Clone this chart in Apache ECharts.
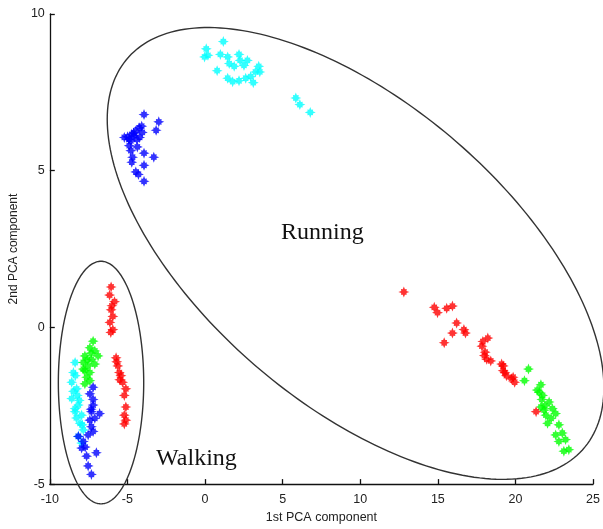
<!DOCTYPE html>
<html>
<head>
<meta charset="utf-8">
<script src="https://cdn.jsdelivr.net/npm/echarts@6/dist/echarts.min.js"></script>
<style>html,body{margin:0;padding:0;background:#fff}#c{width:603px;height:529px}</style>
</head>
<body>
<div id="c"></div>
<script>
// ---- data (1st PCA component, 2nd PCA component) ----
const xTicks = [-10, -5, 0, 5, 10, 15, 20, 25];
const yTicks = [-5, 0, 5, 10];

const cyanRun = [[1.18,9.12],[0.08,8.89],[0.19,8.68],[-0.03,8.63],[0.99,8.71],[1.46,8.63],[2.19,8.71],[2.26,8.52],[2.73,8.52],[1.56,8.42],[1.88,8.33],[2.51,8.36],[3.46,8.33],[0.78,8.19],[3.25,8.15],[1.46,7.95],[1.78,7.84],[2.19,7.87],[2.62,7.95],[2.94,8.00],[3.11,7.81],[3.53,8.15],[5.85,7.32],[6.11,7.11],[6.78,6.86]];
const blueRun = [[-3.93,6.79],[-2.98,6.56],[-3.15,6.29],[-4.25,6.37],[-4.46,6.27],[-4.72,6.16],[-4.99,6.08],[-5.20,6.06],[-4.57,6.11],[-4.04,6.22],[-4.78,5.95],[-4.36,5.76],[-4.78,5.64],[-3.93,5.56],[-3.30,5.43],[-4.67,5.43],[-4.72,5.27],[-3.93,5.17],[-4.46,4.96],[-4.29,4.88],[-3.93,4.66],[-4.21,6.06],[-4.88,5.80],[-4.08,6.42],[-4.6,6.2],[-4.4,6.0],[-4.9,6.0]];
const redRun = [[12.81,1.13],[14.77,0.64],[14.98,0.47],[15.57,0.61],[15.94,0.68],[16.21,0.14],[15.94,-0.18],[16.68,-0.07],[16.78,-0.18],[15.41,-0.49],[18.22,-0.34],[17.84,-0.60],[18.05,-0.79],[18.15,-1.02],[18.41,-1.07],[19.11,-1.17],[19.21,-1.38],[19.42,-1.54],[19.85,-1.59],[19.95,-1.75],[19.21,-1.23],[19.74,-1.64],[19.32,-1.44],[21.33,-2.69],[17.9,-0.45],[18.0,-0.9]];
const greenRun = [[20.84,-1.33],[20.58,-1.70],[21.64,-1.83],[21.54,-2.07],[21.75,-2.17],[22.17,-2.38],[21.64,-2.54],[21.85,-2.64],[22.38,-2.59],[21.96,-2.80],[22.59,-2.75],[22.07,-3.06],[22.80,-3.11],[23.02,-3.37],[22.59,-3.43],[23.23,-3.58],[22.80,-3.64],[23.12,-3.95],[23.44,-3.90],[21.4,-2.0],[21.9,-2.5],[22.3,-2.9],[21.7,-2.3]];

const redWalk = [[-6.05,1.29],[-6.15,1.03],[-5.83,0.82],[-6.05,0.56],[-5.94,0.35],[-6.13,0.16],[-5.94,-0.07],[-6.07,-0.16],[-6.0,0.69],[-5.73,-0.97],[-5.62,-1.23],[-5.52,-1.44],[-5.42,-1.54],[-5.31,-1.75],[-5.10,-1.96],[-5.20,-2.17],[-5.10,-2.54],[-5.20,-2.80],[-5.10,-2.96],[-5.20,-3.08],[-5.69,-1.10],[-5.50,-1.67]];
const greenWalk = [[-7.21,-0.44],[-7.42,-0.65],[-7.10,-0.75],[-6.89,-0.91],[-7.74,-0.91],[-7.32,-1.02],[-7.84,-1.12],[-7.53,-1.23],[-7.10,-1.17],[-7.74,-1.38],[-7.42,-1.44],[-7.84,-1.33],[-7.63,-1.59],[-7.42,-1.70],[-7.74,-1.80],[-7.34,-0.82],[-7.59,-1.04]];
const cyanWalk = [[-8.37,-1.12],[-8.48,-1.44],[-8.59,-1.75],[-8.27,-1.96],[-8.59,-2.27],[-8.37,-2.59],[-8.16,-2.48],[-8.37,-2.69],[-7.95,-2.80],[-8.05,-3.06],[-7.84,-3.27],[-8.16,-3.48],[-7.95,-3.69],[-8.48,-2.04],[-8.22,-2.17],[-8.35,-1.54],[-8.10,-2.33],[-8.29,-2.89],[-7.91,-3.11]];
const blueWalk = [[-7.21,-1.91],[-7.42,-2.12],[-7.21,-2.48],[-6.79,-2.75],[-7.32,-2.69],[-7.10,-2.90],[-7.42,-2.96],[-7.32,-3.17],[-7.21,-3.32],[-7.53,-3.43],[-8.16,-3.48],[-7.84,-3.64],[-7.95,-3.85],[-7.0,-4.00],[-7.63,-4.11],[-7.53,-4.42],[-7.32,-4.69],[-7.21,-2.30],[-7.34,-2.61],[-7.72,-3.82]];

// annotation ellipses in data units: center + two conjugate half-diameters
const ellipseCenters = [[9.70, 2.36], [-6.70, -1.76]];
const ellipseAxesA = [[16.0, -4.28], [2.75, 0]];
const ellipseAxesB = [[0, -5.80], [0, 3.87]];

const groupNames = ['Running', 'Walking'];
const groupLabelPos = [[7.56, 3.02], [-0.55, -4.2]];

// ---- chart ----
function starPath() {
  const pts = [];
  for (let i = 0; i < 16; i++) {
    const ang = i * Math.PI / 8;
    const r = (i % 4 === 0) ? 5 : (i % 2 === 0 ? 3.7 : 2.6);
    pts.push([5 + r * Math.sin(ang), 5 - r * Math.cos(ang)]);
  }
  return 'path://M' + pts.map(p => p[0].toFixed(3) + ',' + p[1].toFixed(3)).join('L') + 'Z';
}
const STAR = starPath();

function scatter(name, color, data) {
  return {
    name, type: 'scatter', data, symbol: STAR, symbolSize: 11,
    itemStyle: { color }, silent: true, animation: false
  };
}

const chart = echarts.init(document.getElementById('c'), null, { renderer: 'canvas' });
chart.setOption({
  animation: false,
  backgroundColor: '#fff',
  grid: { left: 46, right: 5, top: 14, bottom: 40, containLabel: false },
  xAxis: {
    type: 'value', min: xTicks[0], max: xTicks[xTicks.length - 1], interval: 5,
    axisLine: { show: true, onZero: false, lineStyle: { color: '#111', width: 1.3 } },
    axisTick: { show: true, inside: true, length: 5, lineStyle: { color: '#111', width: 1.3 } },
    splitLine: { show: false },
    axisLabel: { color: '#222', fontSize: 12.5, fontFamily: 'Liberation Sans, Arial', margin: 9 },
    name: '1st PCA component', nameLocation: 'middle', nameGap: 25,
    nameTextStyle: { color: '#222', fontSize: 12.5, fontFamily: 'Liberation Sans, Arial' }
  },
  yAxis: {
    type: 'value', min: yTicks[0], max: yTicks[yTicks.length - 1], interval: 5,
    axisLine: { show: true, onZero: false, lineStyle: { color: '#111', width: 1.3 } },
    axisTick: { show: true, inside: true, length: 5, lineStyle: { color: '#111', width: 1.3 } },
    splitLine: { show: false },
    axisLabel: { color: '#222', fontSize: 12.5, fontFamily: 'Liberation Sans, Arial', margin: 5 },
    name: '2nd PCA component', nameLocation: 'middle', nameGap: 18,
    nameTextStyle: { color: '#222', fontSize: 12, fontFamily: 'Liberation Sans, Arial' }
  },
  series: [
    {
      type: 'custom', clip: false, silent: true,
      data: ellipseCenters,
      renderItem: function (params, api) {
        const i = params.dataIndex;
        const c = ellipseCenters[i], a = ellipseAxesA[i], b = ellipseAxesB[i];
        const pts = [];
        for (let k = 0; k <= 240; k++) {
          const t = k / 240 * Math.PI * 2;
          pts.push(api.coord([c[0] + a[0] * Math.cos(t) + b[0] * Math.sin(t),
                              c[1] + a[1] * Math.cos(t) + b[1] * Math.sin(t)]));
        }
        return { type: 'polygon', shape: { points: pts },
                 style: { fill: 'none', stroke: '#333', lineWidth: 1.4 } };
      }
    },
    scatter('cyan', '#00ffff', cyanRun.concat(cyanWalk)),
    scatter('blue', '#0000ff', blueRun.concat(blueWalk)),
    scatter('green', '#00ff00', greenRun.concat(greenWalk)),
    scatter('red', '#ff0000', redRun.concat(redWalk)),
    {
      type: 'custom', clip: false, silent: true,
      data: groupLabelPos,
      renderItem: function (params, api) {
        const p = api.coord(groupLabelPos[params.dataIndex]);
        return { type: 'text', x: p[0], y: p[1],
                 style: { text: groupNames[params.dataIndex], fill: '#111',
                          font: '24px "Liberation Serif", "Times New Roman", serif',
                          align: 'center', verticalAlign: 'middle' } };
      }
    }
  ]
});
</script>
</body>
</html>
